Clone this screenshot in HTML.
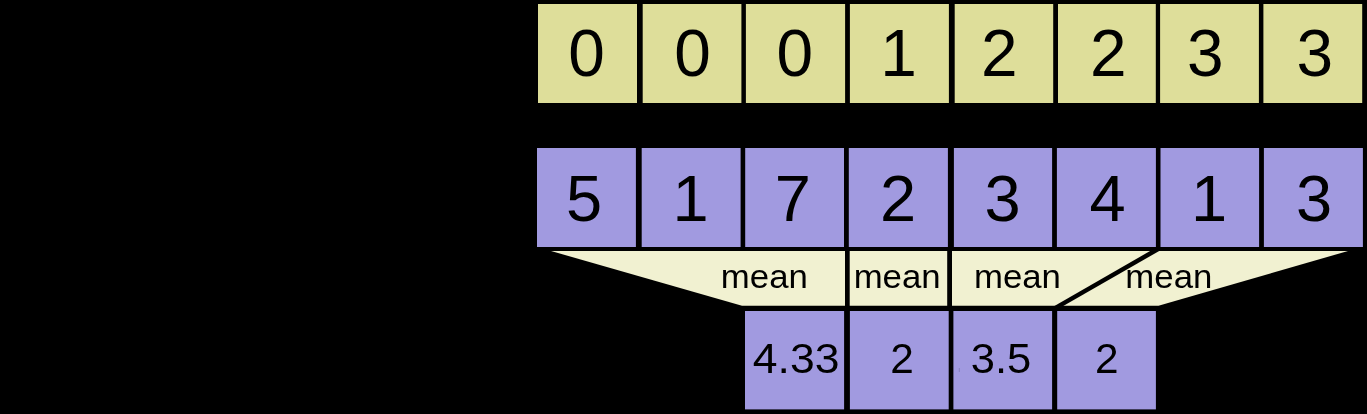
<!DOCTYPE html>
<html><head><meta charset="utf-8"><style>
html,body{margin:0;padding:0;background:#000;width:1367px;height:414px;overflow:hidden}
svg{display:block}
svg{will-change:transform}
text{font-family:"Liberation Sans",sans-serif;fill:#000;text-anchor:middle}
.big{font-size:65.8px}
.big2{font-size:65px}
.mean{font-size:34px}
.small{font-size:42.4px}
</style></head><body>
<svg width="1367" height="414" viewBox="0 0 1367 414">
<rect x="0" y="0" width="1367" height="414" fill="#000"/>
<rect x="538" y="4" width="99.00" height="99" fill="#dede9a"/>
<rect x="642.7" y="4" width="98.70" height="99" fill="#dede9a"/>
<rect x="745.9" y="4" width="99.20" height="99" fill="#dede9a"/>
<rect x="849.9" y="4" width="99.00" height="99" fill="#dede9a"/>
<rect x="954.7" y="4" width="98.50" height="99" fill="#dede9a"/>
<rect x="1058.0" y="4" width="97.80" height="99" fill="#dede9a"/>
<rect x="1160.1" y="4" width="98.80" height="99" fill="#dede9a"/>
<rect x="1263.4" y="4" width="98.80" height="99" fill="#dede9a"/>
<rect x="537" y="148" width="98.90" height="99" fill="#a19ae0"/>
<rect x="641.7" y="148" width="98.90" height="99" fill="#a19ae0"/>
<rect x="745.2" y="148" width="98.80" height="99" fill="#a19ae0"/>
<rect x="848.8" y="148" width="99.10" height="99" fill="#a19ae0"/>
<rect x="953.9" y="148" width="98.20" height="99" fill="#a19ae0"/>
<rect x="1056.9" y="148" width="99.00" height="99" fill="#a19ae0"/>
<rect x="1160.5" y="148" width="98.60" height="99" fill="#a19ae0"/>
<rect x="1263.9" y="148" width="99.00" height="99" fill="#a19ae0"/>
<polygon points="551,251 1348,251 1158.5,305.7 742,305.7" fill="#f1f1d1"/>
<rect x="845" y="250" width="4.7" height="57" fill="#000"/>
<rect x="947.2" y="250" width="4.8" height="57" fill="#000"/>
<line x1="1158.1" y1="249" x2="1054.7" y2="308.4" stroke="#000" stroke-width="4.5"/>
<rect x="745" y="311" width="99.10" height="98.4" fill="#a19ae0"/>
<rect x="849.9" y="311" width="98.80" height="98.4" fill="#a19ae0"/>
<rect x="953.4" y="311" width="98.70" height="98.4" fill="#a19ae0"/>
<rect x="1057.2" y="311" width="98.70" height="98.4" fill="#a19ae0"/>
<rect x="958.8" y="368" width="1" height="4" fill="#8580c0"/>
<text x="586.5" y="75.5" class="big">0</text>
<text x="692.6" y="75.5" class="big">0</text>
<text x="794.7" y="75.5" class="big">0</text>
<text x="898.5" y="75.5" class="big">1</text>
<text x="999.3" y="75.5" class="big">2</text>
<text x="1108.3" y="75.5" class="big">2</text>
<text x="1205.3" y="75.5" class="big">3</text>
<text x="1314.7" y="75.5" class="big">3</text>
<text x="584.0" y="221.2" class="big2">5</text>
<text x="690.5" y="221.2" class="big2">1</text>
<text x="792.9" y="221.2" class="big2">7</text>
<text x="898.2" y="221.2" class="big2">2</text>
<text x="1002.6" y="221.2" class="big2">3</text>
<text x="1107.6" y="221.2" class="big2">4</text>
<text x="1209.0" y="221.2" class="big2">1</text>
<text x="1314.0" y="221.2" class="big2">3</text>
<text x="764.35" y="287.5" class="mean" textLength="87" lengthAdjust="spacingAndGlyphs">mean</text>
<text x="897.15" y="287.5" class="mean" textLength="87" lengthAdjust="spacingAndGlyphs">mean</text>
<text x="1017.45" y="287.5" class="mean" textLength="87" lengthAdjust="spacingAndGlyphs">mean</text>
<text x="1168.85" y="287.5" class="mean" textLength="87" lengthAdjust="spacingAndGlyphs">mean</text>
<text x="796.1" y="373.1" class="small" textLength="86.6" lengthAdjust="spacingAndGlyphs">4.33</text>
<text x="902.15" y="373.1" class="small">2</text>
<text x="1001.05" y="373.1" class="small" textLength="60.5" lengthAdjust="spacingAndGlyphs">3.5</text>
<text x="1106.8" y="373.1" class="small">2</text>
</svg>
</body></html>
